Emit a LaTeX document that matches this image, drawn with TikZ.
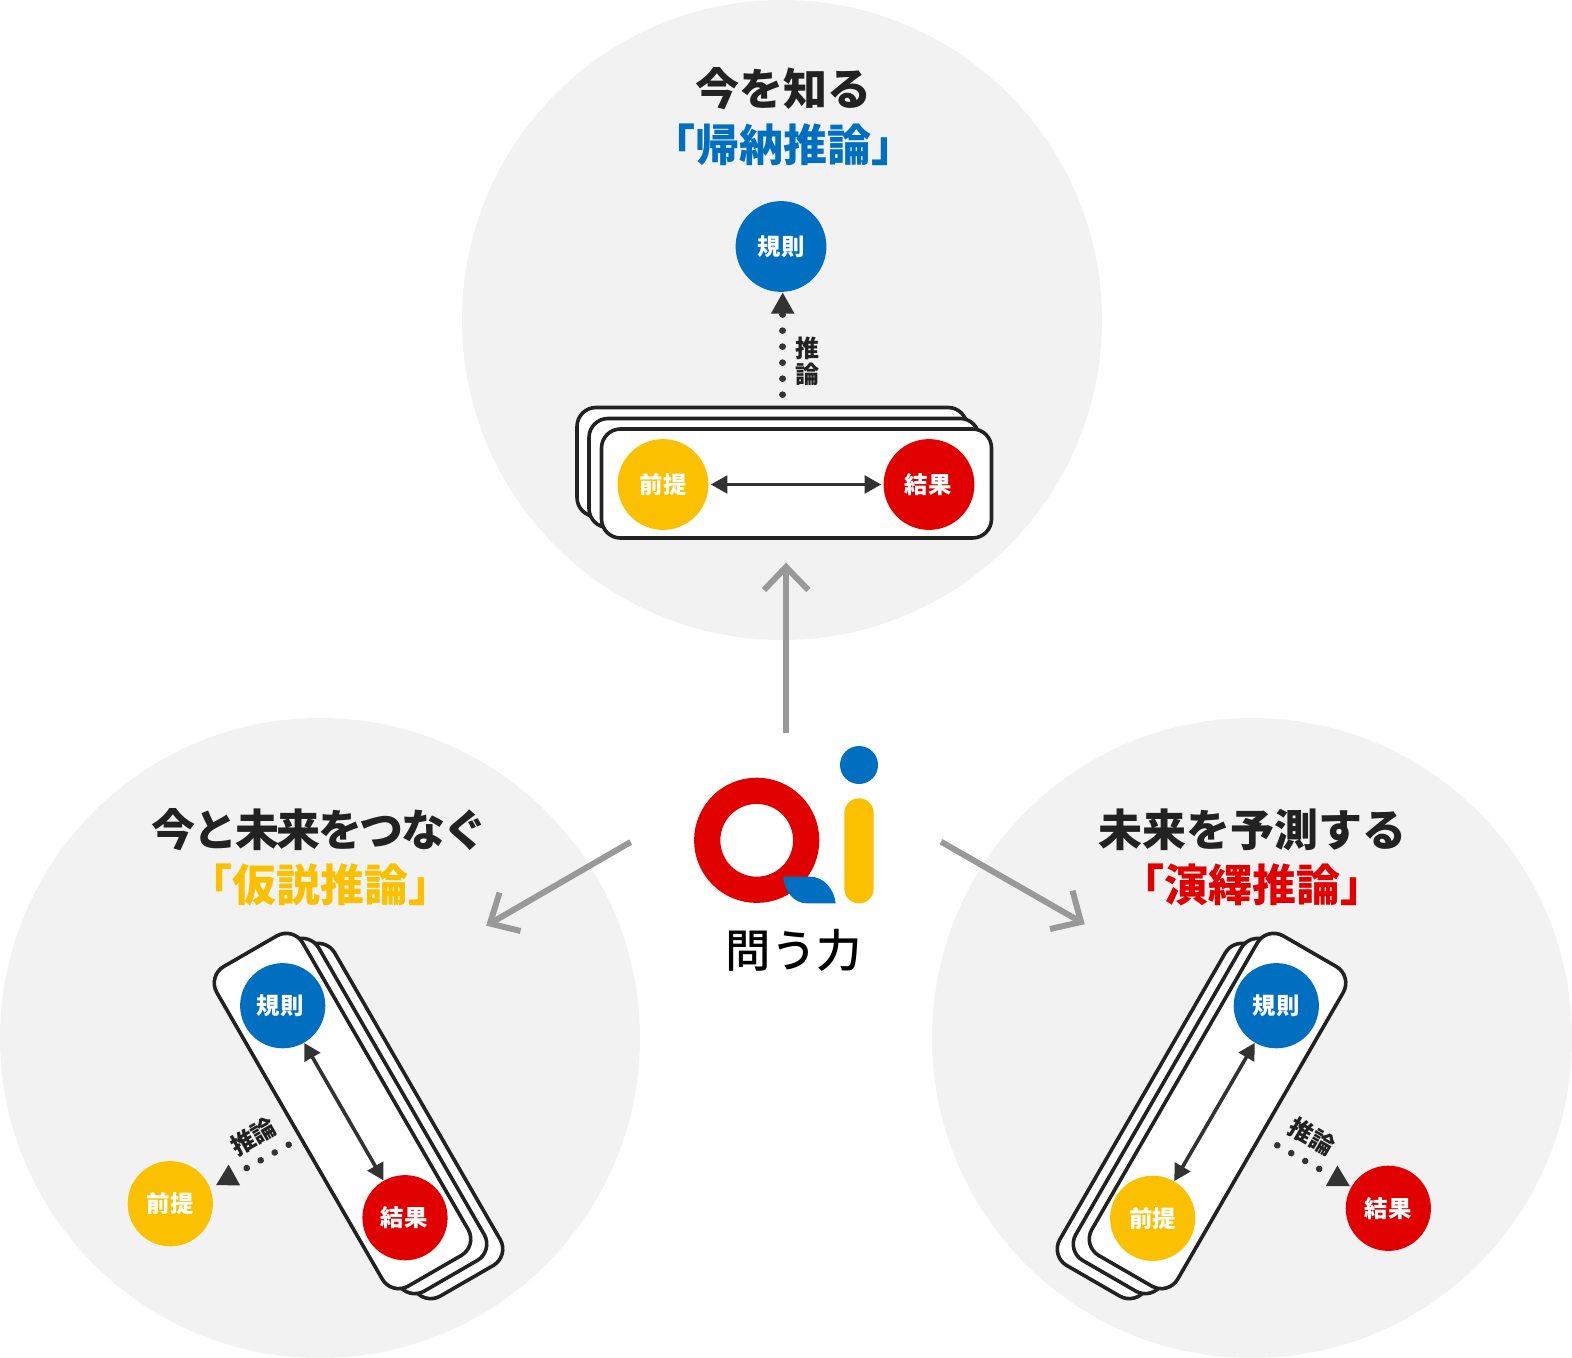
\documentclass[tikz,border=0pt]{standalone}
\usepackage{fontspec}
\setmainfont{Noto Sans CJK JP}
\newfontfamily\jpmedium[UprightFont=* Medium]{Noto Sans CJK JP}
\usetikzlibrary{arrows.meta}
\definecolor{qblue}{HTML}{006FC0}
\definecolor{qyellow}{HTML}{FBC000}
\definecolor{qred}{HTML}{E00000}
\definecolor{qpanel}{HTML}{F2F2F2}
\definecolor{qink}{HTML}{222222}
\definecolor{qdark}{HTML}{333333}
\definecolor{qgrey}{HTML}{999999}
\tikzset{
  panel/.style={circle,fill=qpanel,minimum size=320pt,inner sep=0pt},
  card/.style={rectangle,draw=qink,fill=white,line width=1.8pt,rounded corners=9.5pt,inner sep=0pt},
  hcard/.style={card,minimum width=195pt,minimum height=54.5pt},
  lcard/.style={card,minimum width=184.5pt,minimum height=49.6pt,rotate=-60},
  rcard/.style={card,minimum width=184.5pt,minimum height=49.6pt,rotate=60},
  ball/.style={circle,fill=#1,text=white,font=\bfseries\fontsize{11.7pt}{13pt}\selectfont,inner sep=0pt,minimum size=45.4pt},
  sball/.style={ball=#1,minimum size=42.6pt},
  both/.style={qdark,line width=1.8pt,{Triangle[length=8.3pt,width=8.8pt]}-{Triangle[length=8.3pt,width=8.8pt]}},
  infer/.style={qdark,line width=3.3pt,line cap=round,dash pattern=on 0.01pt off 8pt,-{Triangle[length=10.7pt,width=11pt]}},
  infertext/.style={text=qink,font=\bfseries\fontsize{12pt}{13pt}\selectfont,inner sep=0pt},
  headline/.style={text=qink,font=\bfseries\fontsize{22pt}{24pt}\selectfont,inner sep=0pt},
  kind/.style={text=#1,font=\bfseries\fontsize{22pt}{24pt}\selectfont,inner sep=0pt},
  bigline/.style={qgrey,line width=3pt},
  bigwing/.style={qgrey,line width=3pt,miter limit=10}
}
\begin{document}
\begin{tikzpicture}[x=0.5pt,y=-0.5pt]
\useasboundingbox (0,0) rectangle (1572,1358);
% panels
\node[panel] (ptop) at (782,320) {};
\node[panel] (pleft) at (320,1038) {};
\node[panel] (pright) at (1252,1038) {};
% titles
\node[headline] (t1a) at (783.5,88.5) {今を知る};
\node[kind=qblue] (t1b) at (783.5,145) {「帰納推論」};
\node[headline] (t2a) at (319.5,829.5) {\addfontfeature{LetterSpace=-5.5}今と未来をつなぐ};
\node[kind=qyellow] (t2b) at (320,885) {「仮説推論」};
\node[headline] (t3a) at (1252,829.5) {未来を予測する};
\node[kind=qred] (t3b) at (1252,885) {「演繹推論」};
% top group
\node[hcard] (ca1) at (772,462) {};
\node[hcard] (ca2) at (784,473) {};
\node[hcard] (ca3) at (796.5,483.5) {};
\node[ball=qblue] (ka) at (781,246.5) {規則};
\node[ball=qyellow] (ma) at (663,484.5) {前提};
\node[ball=qred] (ya) at (929,484.5) {\hspace*{-1pt}結果};
\draw[both,shorten <=1pt,shorten >=1pt] (ma) -- (ya);
\coordinate (sa) at (782.7,394.7);
\draw[infer] (sa) -- (ka.south -| sa);
\node[infertext,align=center] (ia) at (807.5,361) {推\\論};
% left group
\node[lcard] (cb1) at (374.5,1121) {};
\node[lcard] (cb2) at (358.5,1116) {};
\node[lcard] (cb3) at (342.5,1111) {};
\node[sball=qblue] (kb) at (282.7,1005.7) {\hspace*{-2.5pt}規則};
\node[sball=qred] (yb) at (405,1217.7) {\hspace*{-1pt}結果};
\node[sball=qyellow] (mb) at (170.3,1203.7) {前提};
\draw[both] (kb) -- (yb);
\coordinate (sb) at (288.7,1144.7);
\draw[infer,shorten >=3pt] (sb) -- (mb.21);
\node[infertext,rotate=30] (ib) at (253.3,1136.7) {推論};
% right group
\node[rcard] (cc1) at (1185.5,1121) {};
\node[rcard] (cc2) at (1201.5,1116) {};
\node[rcard] (cc3) at (1217.5,1111) {};
\node[sball=qblue] (kc) at (1276.3,1005.7) {規則};
\node[sball=qyellow] (mc) at (1152.7,1218.3) {前提};
\node[sball=qred] (yc) at (1388.3,1208.3) {結果};
\draw[both] (mc) -- (kc);
\coordinate (sc) at (1277.3,1145.3);
\draw[infer,shorten >=0.5pt] (sc) -- (yc.150);
\node[infertext,rotate=-30] (ic) at (1311.7,1136.7) {推論};
% logo
\draw[qred,line width=13.1pt] (756.7,840.3) circle[radius=24.75pt];
\fill[qblue] (783.3,876.7) -- (810,876.7) .. controls (824,876.7) and (834,889) .. (835.7,903.3) -- (806.7,903.3) .. controls (794,903.3) and (784,891) .. (783.3,876.7) -- cycle;
\node[circle,fill=qblue,minimum size=19pt,inner sep=0pt] (dot) at (859,765) {};
\node[rectangle,fill=qyellow,rounded corners=7.3pt,minimum width=14.7pt,minimum height=52.5pt,inner sep=0pt] (bar) at (859,850.8) {};
\node[text=black,font=\jpmedium\fontsize{22.7pt}{24pt}\selectfont,inner sep=0pt] (ask) at (794,950) {問う力};
% grey arrows
\coordinate (ua) at (786,732.7); \coordinate (ub) at (786,567.5);
\draw[bigline] (ua) -- (ub);
\draw[bigwing] (764,590) -- (786,567) -- (808.3,590);
\coordinate (la) at (630.7,842); \coordinate (lb) at (490,923.5);
\draw[bigline] (la) -- (lb);
\draw[bigwing] (499.5,892.7) -- (490,923.5) -- (520.5,931);
\coordinate (ra) at (941,841.7); \coordinate (rb) at (1081,922);
\draw[bigline] (ra) -- (rb);
\draw[bigwing] (1072.5,890.7) -- (1081,922) -- (1050,929);
\end{tikzpicture}
\end{document}
